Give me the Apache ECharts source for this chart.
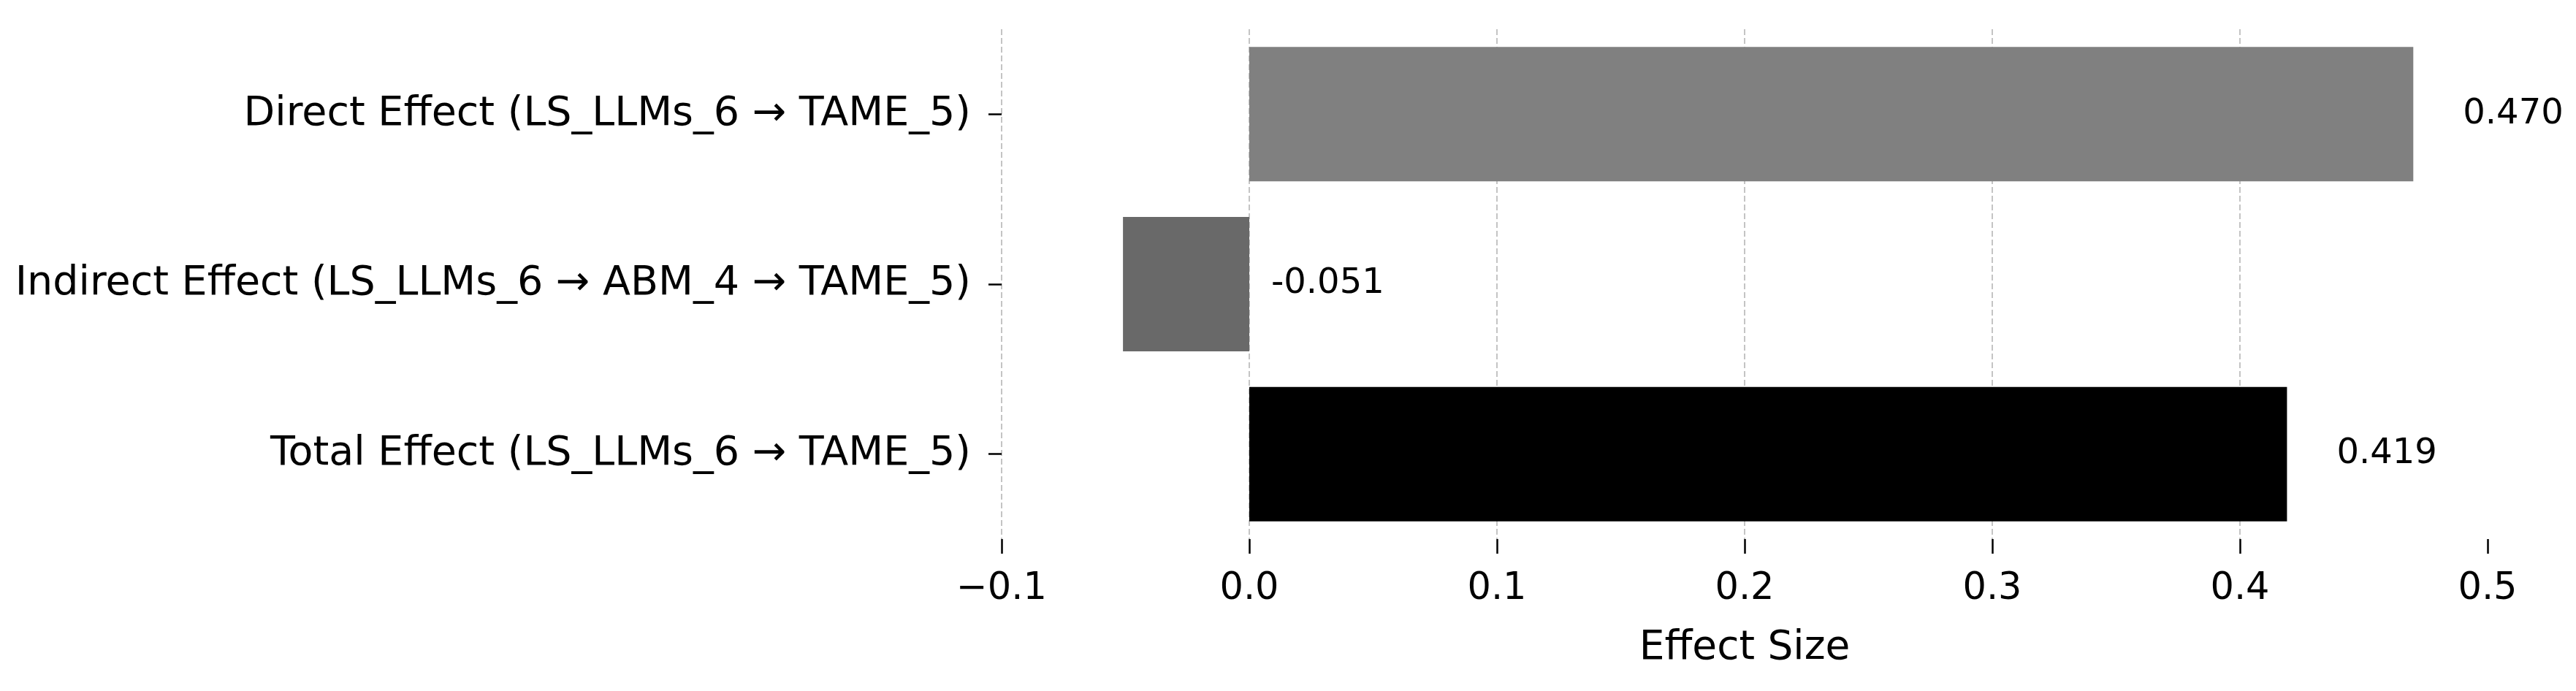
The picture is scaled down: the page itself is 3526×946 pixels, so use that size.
<!DOCTYPE html>
<html>
<head>
<meta charset="utf-8">
<script src="https://cdn.jsdelivr.net/npm/echarts@6/dist/echarts.min.js"></script>
<style>
  html, body { margin: 0; padding: 0; background: #fff; }
  #chart { width: 3526px; height: 946px; }
</style>
</head>
<body>
<div id="chart"></div>
<script>
var categories = [
    'Direct Effect (LS_LLMs_6 \u2192 TAME_5)',
    'Indirect Effect (LS_LLMs_6 \u2192 ABM_4 \u2192 TAME_5)',
    'Total Effect (LS_LLMs_6 \u2192 TAME_5)'
];
var effects = [0.470, -0.051, 0.419];
var barColors = ['#808080', '#696969', '#000000'];
var xTicks = { min: -0.1, max: 0.5, step: 0.1 };

var font = 'DejaVu Sans';

var chart = echarts.init(document.getElementById('chart'));

var seriesData = effects.map(function (v, i) {
    return {
        value: v,
        itemStyle: { color: barColors[i] },
        label: { distance: v < 0 ? 30 : 68 }
    };
});

var option = {
    animation: false,
    backgroundColor: '#ffffff',
    grid: {
        left: 1371,
        right: 121,
        top: 40,
        bottom: 208,
        containLabel: false,
        outerBoundsMode: 'none'
    },
    xAxis: {
        type: 'value',
        min: xTicks.min,
        max: xTicks.max,
        interval: xTicks.step,
        name: 'Effect Size',
        nameLocation: 'middle',
        nameGap: 122,
        nameTextStyle: { fontFamily: font, fontSize: 55, color: '#000' },
        axisLine: { show: false },
        axisTick: { show: true, length: 20, lineStyle: { color: '#000', width: 2.5 } },
        axisLabel: {
            fontFamily: font,
            fontSize: 51,
            color: '#000',
            margin: 43,
            formatter: function (v) {
                var s = Math.abs(v).toFixed(1);
                return v < -1e-9 ? '\u2212' + s : s;
            }
        },
        splitLine: {
            show: true,
            showMaxLine: false,
            lineStyle: { color: '#c4c4c4', width: 2, type: [8, 4] }
        }
    },
    yAxis: {
        type: 'category',
        data: categories,
        inverse: true,
        axisLine: { show: false, onZero: false },
        axisTick: { show: true, length: 18, alignWithLabel: true, lineStyle: { color: '#000', width: 2.5 } },
        axisLabel: { fontFamily: font, fontSize: 55.5, color: '#000', margin: 42, padding: [6, 0, 0, 0] },
        splitLine: { show: false }
    },
    series: [
        {
            type: 'bar',
            barWidth: 184,
            data: seriesData,
            label: {
                show: true,
                position: 'right',
                fontFamily: font,
                fontSize: 48,
                color: '#000',
                formatter: function (p) { return p.value.toFixed(3); }
            }
        }
    ]
};

chart.setOption(option);
window.onresize = chart.resize;
</script>
</body>
</html>
